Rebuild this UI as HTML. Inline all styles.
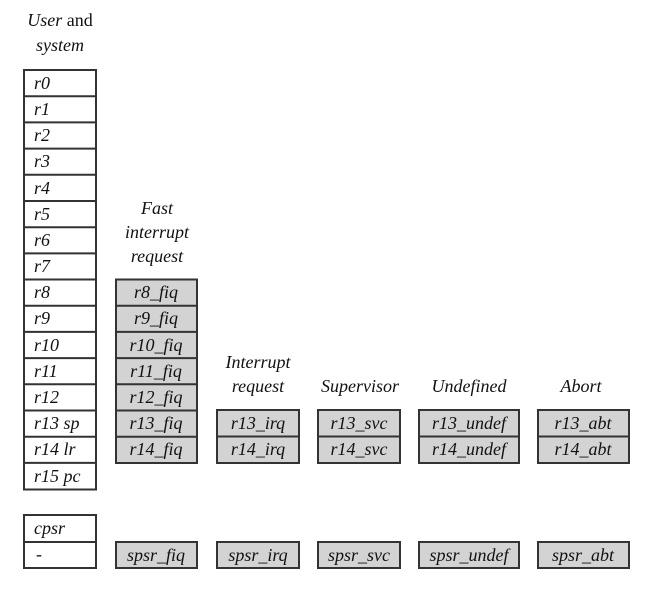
<!DOCTYPE html>
<html><head><style>
body{margin:0;background:#fff;}
svg text{font-family:"Liberation Serif",serif;font-size:18px;font-style:italic;fill:#111;}
</style></head><body>
<svg width="645" height="590" xmlns="http://www.w3.org/2000/svg">
<g stroke="#333" stroke-width="2">
<rect x="24" y="70" width="72" height="419.5" fill="#fff"/>
<rect x="24" y="515" width="72" height="53" fill="#fff"/>
<rect x="116" y="279.5" width="81" height="183.5" fill="#d3d3d3"/>
<rect x="116" y="542" width="81" height="26" fill="#d3d3d3"/>
<rect x="217" y="410" width="82" height="53" fill="#d3d3d3"/>
<rect x="318" y="410" width="82" height="53" fill="#d3d3d3"/>
<rect x="419" y="410" width="100" height="53" fill="#d3d3d3"/>
<rect x="538" y="410" width="91" height="53" fill="#d3d3d3"/>
<rect x="217" y="542" width="82" height="26" fill="#d3d3d3"/>
<rect x="318" y="542" width="82" height="26" fill="#d3d3d3"/>
<rect x="419" y="542" width="100" height="26" fill="#d3d3d3"/>
<rect x="538" y="542" width="91" height="26" fill="#d3d3d3"/>
<path d="M24 96.2H96M24 122.4H96M24 148.6H96M24 174.8H96M24 201H96M24 227.2H96M24 253.4H96M24 279.5H96M24 305.7H96M24 331.9H96M24 358.1H96M24 384.3H96M24 410.5H96M24 436.7H96M24 462.9H96M24 542H96"/>
<path d="M116 305.7H197M116 331.9H197M116 358.1H197M116 384.3H197M116 410.5H197M116 436.7H197"/>
<path d="M217 436.5H299M318 436.5H400M419 436.5H519M538 436.5H629"/>
</g>
<g>
<text x="34" y="89">r0</text><text x="34" y="115">r1</text><text x="34" y="141">r2</text><text x="34" y="167">r3</text>
<text x="34" y="194">r4</text><text x="34" y="220">r5</text><text x="34" y="246">r6</text><text x="34" y="272">r7</text>
<text x="34" y="298">r8</text><text x="34" y="324">r9</text><text x="34" y="351">r10</text><text x="34" y="377">r11</text>
<text x="34" y="403">r12</text><text x="34" y="429">r13 sp</text><text x="34" y="455">r14 lr</text><text x="34" y="482">r15 pc</text>
<text x="34" y="534">cpsr</text><text x="36" y="560">-</text>
</g>
<g text-anchor="middle">
<text x="156" y="298">r8_fiq</text><text x="156" y="324">r9_fiq</text><text x="156" y="351">r10_fiq</text>
<text x="156" y="377">r11_fiq</text><text x="156" y="403">r12_fiq</text><text x="156" y="429">r13_fiq</text>
<text x="156" y="455">r14_fiq</text><text x="156" y="561">spsr_fiq</text>
<text x="258" y="429">r13_irq</text><text x="258" y="455">r14_irq</text><text x="258" y="561">spsr_irq</text>
<text x="359" y="429">r13_svc</text><text x="359" y="455">r14_svc</text><text x="359" y="561">spsr_svc</text>
<text x="469" y="429">r13_undef</text><text x="469" y="455">r14_undef</text><text x="469" y="561">spsr_undef</text>
<text x="583" y="429">r13_abt</text><text x="583" y="455">r14_abt</text><text x="583" y="561">spsr_abt</text>
<text x="60" y="26">User <tspan font-style="normal">and</tspan></text>
<text x="60" y="51">system</text>
<text x="157" y="214">Fast</text><text x="157" y="238">interrupt</text><text x="157" y="262">request</text>
<text x="258" y="368">Interrupt</text><text x="258" y="392">request</text>
<text x="360" y="392">Supervisor</text><text x="469" y="392">Undefined</text><text x="581" y="392">Abort</text>
</g>
</svg>
</body></html>
